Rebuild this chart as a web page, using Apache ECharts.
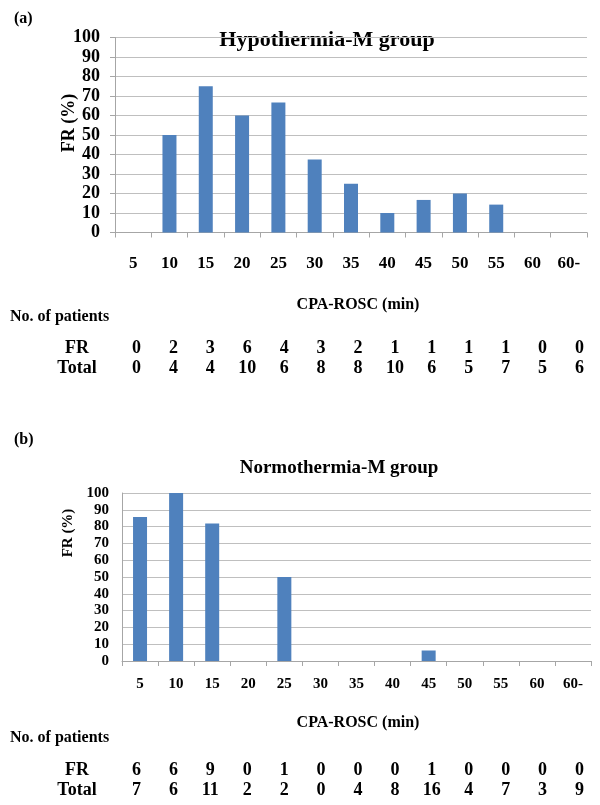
<!DOCTYPE html>
<html><head><meta charset="utf-8">
<script src="https://cdn.jsdelivr.net/npm/echarts@6/dist/echarts.min.js"></script>
<style>html,body{margin:0;padding:0;background:#fff}#c{width:600px;height:805px}</style>
</head><body><div id="c"></div>
<script>
const categories = ['5','10','15','20','25','30','35','40','45','50','55','60','60-'];
const hypoFR = [0, 50, 75, 60, 66.7, 37.5, 25, 10, 16.7, 20, 14.3, 0, 0];
const normoFR = [85.7, 100, 81.8, 0, 50, 0, 0, 0, 6.25, 0, 0, 0, 0];
const hypoCountFR = [0, 2, 3, 6, 4, 3, 2, 1, 1, 1, 1, 0, 0];
const hypoCountTotal = [0, 4, 4, 10, 6, 8, 8, 10, 6, 5, 7, 5, 6];
const normoCountFR = [6, 6, 9, 0, 1, 0, 0, 0, 1, 0, 0, 0, 0];
const normoCountTotal = [7, 6, 11, 2, 2, 0, 4, 8, 16, 4, 7, 3, 9];
const rowLabels = ['FR', 'Total'];

const FONT = "'Liberation Serif','Times New Roman',serif";
const BAR = '#4F81BD';
const GRID_C = '#BFBFBF';
const AXIS_C = '#A6A6A6';

function txt(size) { return {fontFamily: FONT, fontWeight: 'bold', fontSize: size, color: '#000'}; }

function chartX(gridIndex, size, margin) {
  return {
    type: 'category', gridIndex, data: categories,
    axisLine: {lineStyle: {color: AXIS_C}},
    axisTick: {show: true, length: 5, lineStyle: {color: AXIS_C}},
    axisLabel: Object.assign(txt(size), {margin, interval: 0}),
    splitLine: {show: false}
  };
}
function chartY(gridIndex, size, margin, ticks) {
  return {
    type: 'value', gridIndex, min: 0, max: 100, interval: 10,
    axisLine: {show: true, lineStyle: {color: AXIS_C}},
    axisTick: {show: ticks, length: 5, lineStyle: {color: AXIS_C}},
    axisLabel: Object.assign(txt(size), {margin}),
    splitLine: {lineStyle: {color: GRID_C}}
  };
}
function tableX(gridIndex, counts, position) {
  return {
    type: 'category', gridIndex, position, boundaryGap: true,
    data: counts.map((v, i) => i),
    axisLine: {show: false}, axisTick: {show: false}, splitLine: {show: false},
    axisLabel: Object.assign(txt(18), {margin: 0, interval: 0, verticalAlign: 'middle',
      formatter: (val, idx) => String(counts[idx])})
  };
}
function tableY(gridIndex) {
  return {
    type: 'category', gridIndex, inverse: true, boundaryGap: false, data: rowLabels,
    axisLine: {show: false}, axisTick: {show: false}, splitLine: {show: false},
    axisLabel: Object.assign(txt(18), {margin: 41, align: 'center', interval: 0})
  };
}

const chart = echarts.init(document.getElementById('c'), null, {renderer: 'canvas'});
chart.setOption({
  backgroundColor: '#fff',
  animation: false,
  grid: [
    {left: 115, width: 472, top: 37.5, height: 195},
    {left: 122, width: 469, top: 493, height: 168},
    {left: 118, width: 480, top: 348.5, height: 20},
    {left: 118, width: 480, top: 770, height: 20}
  ],
  xAxis: [
    chartX(0, 17, 23),
    chartX(1, 15, 16),
    tableX(2, hypoCountFR, 'top'),
    tableX(2, hypoCountTotal, 'bottom'),
    tableX(3, normoCountFR, 'top'),
    tableX(3, normoCountTotal, 'bottom')
  ],
  yAxis: [
    chartY(0, 18, 15, true),
    chartY(1, 15, 13, false),
    tableY(2),
    tableY(3)
  ],
  series: [
    {type: 'bar', xAxisIndex: 0, yAxisIndex: 0, data: hypoFR, barWidth: 14,
     itemStyle: {color: BAR}},
    {type: 'bar', xAxisIndex: 1, yAxisIndex: 1, data: normoFR, barWidth: 14,
     itemStyle: {color: BAR}}
  ],
  graphic: [
    {type: 'text', x: 14, y: 19, style: {text: '(a)', textVerticalAlign: 'middle', fill: '#000', font: 'bold 16px ' + FONT}},
    {type: 'text', x: 327, y: 40, style: {text: 'Hypothermia-M group', textAlign: 'center', textVerticalAlign: 'middle', fill: '#000', font: 'bold 22px ' + FONT}},
    {type: 'text', x: 69, y: 123, rotation: Math.PI / 2, style: {text: 'FR (%)', textAlign: 'center', textVerticalAlign: 'middle', fill: '#000', font: 'bold 18px ' + FONT}},
    {type: 'text', x: 358, y: 305, style: {text: 'CPA-ROSC (min)', textAlign: 'center', textVerticalAlign: 'middle', fill: '#000', font: 'bold 16px ' + FONT}},
    {type: 'text', x: 10, y: 317, style: {text: 'No. of patients', textVerticalAlign: 'middle', fill: '#000', font: 'bold 16px ' + FONT}},
    {type: 'text', x: 14, y: 440, style: {text: '(b)', textVerticalAlign: 'middle', fill: '#000', font: 'bold 16px ' + FONT}},
    {type: 'text', x: 339, y: 468, style: {text: 'Normothermia-M group', textAlign: 'center', textVerticalAlign: 'middle', fill: '#000', font: 'bold 19px ' + FONT}},
    {type: 'text', x: 68, y: 533, rotation: Math.PI / 2, style: {text: 'FR (%)', textAlign: 'center', textVerticalAlign: 'middle', fill: '#000', font: 'bold 15px ' + FONT}},
    {type: 'text', x: 358, y: 723, style: {text: 'CPA-ROSC (min)', textAlign: 'center', textVerticalAlign: 'middle', fill: '#000', font: 'bold 16px ' + FONT}},
    {type: 'text', x: 10, y: 738, style: {text: 'No. of patients', textVerticalAlign: 'middle', fill: '#000', font: 'bold 16px ' + FONT}}
  ]
});
</script>
</body></html>
